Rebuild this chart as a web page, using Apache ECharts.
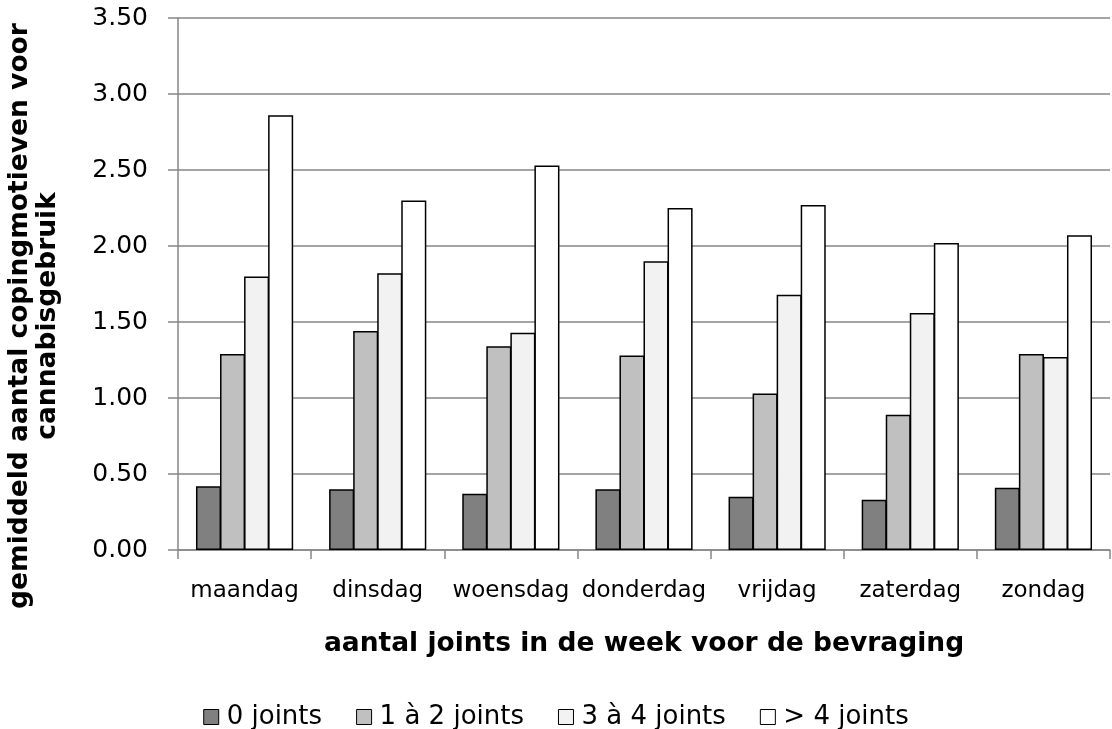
<!DOCTYPE html>
<html>
<head>
<meta charset="utf-8">
<script src="https://cdn.jsdelivr.net/npm/echarts@6/dist/echarts.min.js"></script>
<style>
  html, body { margin: 0; padding: 0; background: #fff; }
  #chart { width: 1112px; height: 729px; }
</style>
</head>
<body>
<div id="chart"></div>
<script>
// days of the week
const days = ['maandag', 'dinsdag', 'woensdag', 'donderdag', 'vrijdag', 'zaterdag', 'zondag']
const seriesNames = ['0 joints', '1 à 2 joints', '3 à 4 joints', '> 4 joints']
const joints0 = [0.42, 0.40, 0.37, 0.40, 0.35, 0.33, 0.41]
const joints1to2 = [1.29, 1.44, 1.34, 1.28, 1.03, 0.89, 1.29]
const joints3to4 = [1.80, 1.82, 1.43, 1.90, 1.68, 1.56, 1.27]
const jointsOver4 = [2.86, 2.30, 2.53, 2.25, 2.27, 2.02, 2.07]
const fills = ['#808080', '#c0c0c0', '#f2f2f2', '#ffffff']

const font = 'DejaVu Sans, Verdana, sans-serif'
const chart = echarts.init(document.getElementById('chart'))

const series = [joints0, joints1to2, joints3to4, jointsOver4].map((data, i) => {
  return {
    type: 'bar',
    name: seriesNames[i],
    data: data,
    barGap: '-4%',
    barCategoryGap: '27%',
    itemStyle: {
      color: fills[i],
      borderColor: '#000',
      borderWidth: 1.5
    }
  }
})

chart.setOption({
  animation: false,
  textStyle: { fontFamily: font },
  grid: { left: 178, right: 2, top: 18, bottom: 179, containLabel: false },
  legend: {
    top: 699,
    left: 'center',
    icon: 'rect',
    itemWidth: 15,
    itemHeight: 15,
    itemGap: 34,
    textStyle: { fontFamily: font, fontSize: 26, color: '#000', padding: [0, 0, 0, 3] },
    itemStyle: { borderColor: '#000', borderWidth: 1 }
  },
  xAxis: {
    type: 'category',
    data: days,
    name: 'aantal joints in de week voor de bevraging',
    nameLocation: 'middle',
    nameGap: 81,
    nameTextStyle: { fontFamily: font, fontSize: 26.5, fontWeight: 'bold', color: '#000' },
    axisLine: { lineStyle: { color: '#868686', width: 1.5 } },
    axisTick: { show: true, length: 9, lineStyle: { color: '#868686', width: 1.5 } },
    axisLabel: { fontFamily: font, fontSize: 23, color: '#000', margin: 30, interval: 0 }
  },
  yAxis: {
    type: 'value',
    min: 0,
    max: 3.5,
    interval: 0.5,
    axisLine: { show: true, lineStyle: { color: '#868686', width: 1.5 } },
    axisTick: { show: true, length: 10, lineStyle: { color: '#868686', width: 1.5 } },
    splitLine: { lineStyle: { color: '#868686', width: 1.5 } },
    axisLabel: {
      fontFamily: font,
      fontSize: 25,
      color: '#000',
      margin: 30,
      formatter: v => v.toFixed(2)
    }
  },
  graphic: [{
    type: 'text',
    x: 34,
    y: 316,
    rotation: Math.PI / 2,
    style: {
      text: 'gemiddeld aantal copingmotieven voor\ncannabisgebruik',
      font: 'bold 26.5px ' + font,
      fill: '#000',
      align: 'center',
      verticalAlign: 'middle',
      lineHeight: 28
    }
  }],
  series: series
})
</script>
</body>
</html>
